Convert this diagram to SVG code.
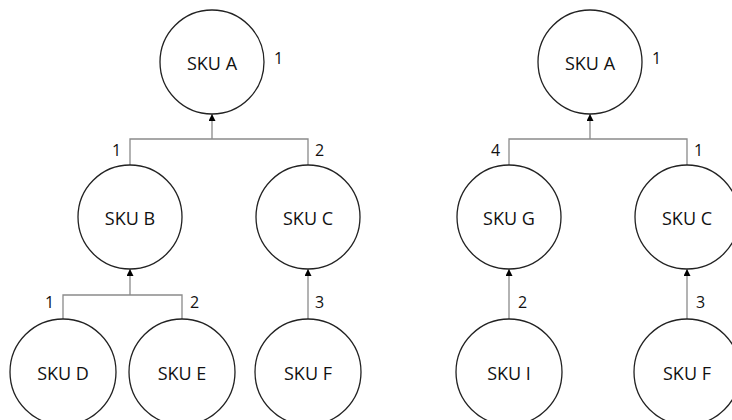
<svg xmlns="http://www.w3.org/2000/svg" width="732" height="420" viewBox="0 0 732 420">
<style>
.n circle{fill:#fff;stroke:#222;stroke-width:1.3}
.n text{font-family:"Open Sans","Liberation Sans",sans-serif;font-size:18px;fill:#111;text-anchor:middle;dominant-baseline:central}
.c path{fill:none;stroke:#8a8a8a;stroke-width:1.3}
.lbl text{font-family:"Open Sans","Liberation Sans",sans-serif;font-size:16px;fill:#111}
</style>
<defs>
<marker id="ah" viewBox="0 0 10 10" refX="10" refY="5" markerWidth="7" markerHeight="7" markerUnits="userSpaceOnUse" orient="auto">
<path d="M0,0 L10,5 L0,10 Z" fill="#000"/>
</marker>
</defs>
<rect width="732" height="420" fill="#fff"/>
<g class="c">
<path d="M130,166 V139 H308 V166 M212,139 V114" marker-end="url(#ah)"/>
<path d="M63,320 V295 H182 V320 M130,295 V269" marker-end="url(#ah)"/>
<path d="M308,320 V269" marker-end="url(#ah)"/>
<path d="M509,166 V139 H687 V166 M590,139 V114" marker-end="url(#ah)"/>
<path d="M509,320 V269" marker-end="url(#ah)"/>
<path d="M687,320 V269" marker-end="url(#ah)"/>
</g>
<g class="lbl">
<text x="274" y="64">1</text>
<text x="112" y="156">1</text>
<text x="315" y="156">2</text>
<text x="45" y="308">1</text>
<text x="190" y="308">2</text>
<text x="315" y="308">3</text>
<text x="652" y="64">1</text>
<text x="491" y="156">4</text>
<text x="694" y="156">1</text>
<text x="518" y="308">2</text>
<text x="696" y="308">3</text>
</g>
<g id="left-skuA" class="n"><circle cx="212" cy="62" r="52"/><text x="212" y="63">SKU A</text></g>
<g id="left-skuB" class="n"><circle cx="130" cy="217" r="52"/><text x="130" y="218">SKU B</text></g>
<g id="left-skuC" class="n"><circle cx="308" cy="217" r="52"/><text x="308" y="218">SKU C</text></g>
<g id="left-skuD" class="n"><circle cx="63" cy="372" r="53"/><text x="63" y="373">SKU D</text></g>
<g id="left-skuE" class="n"><circle cx="182" cy="372" r="53"/><text x="182" y="373">SKU E</text></g>
<g id="left-skuF" class="n"><circle cx="308" cy="372" r="53"/><text x="308" y="373">SKU F</text></g>
<g id="right-skuA" class="n"><circle cx="590" cy="62" r="52"/><text x="590" y="63">SKU A</text></g>
<g id="right-skuG" class="n"><circle cx="509" cy="217" r="52"/><text x="509" y="218">SKU G</text></g>
<g id="right-skuC" class="n"><circle cx="687" cy="217" r="52"/><text x="687" y="218">SKU C</text></g>
<g id="right-skuI" class="n"><circle cx="509" cy="372" r="53"/><text x="509" y="373">SKU I</text></g>
<g id="right-skuF" class="n"><circle cx="687" cy="372" r="53"/><text x="687" y="373">SKU F</text></g>
</svg>
